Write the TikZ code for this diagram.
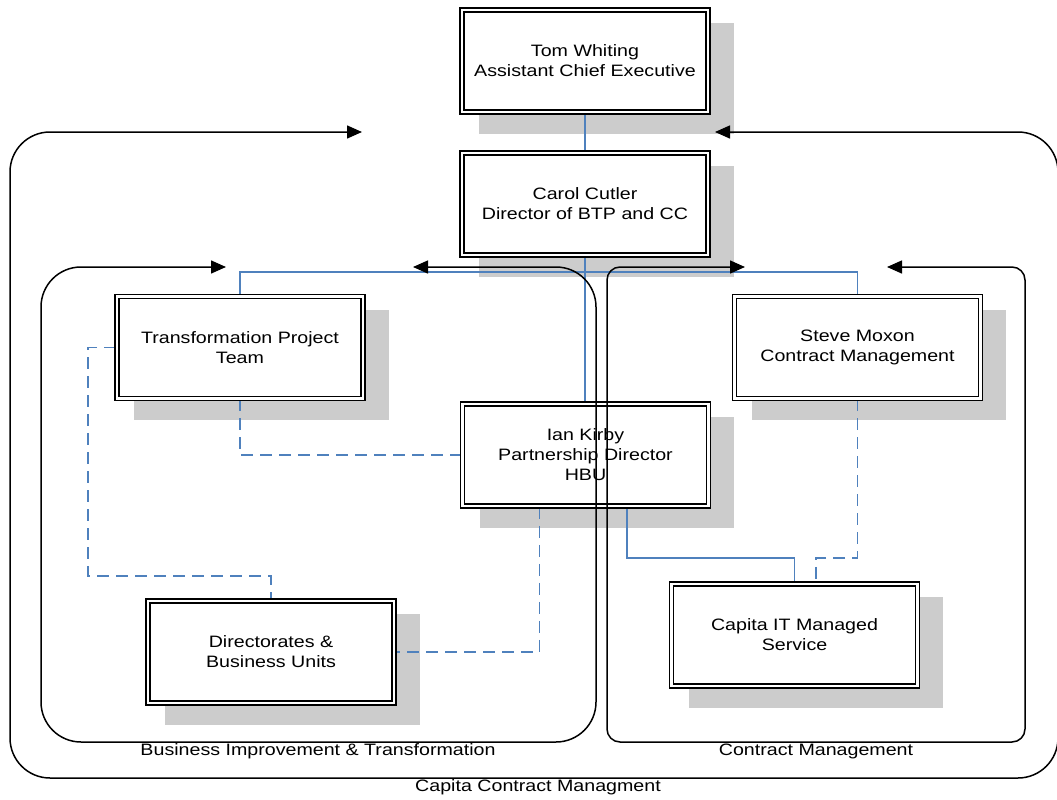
\documentclass[tikz,border=0pt]{standalone}
\usepackage{fontspec}
\setmainfont{Liberation Sans}[FakeStretch=1.19]
\usetikzlibrary{arrows.meta}
\definecolor{linkblue}{RGB}{79,129,189}
\definecolor{shadowgray}{RGB}{204,204,204}
\pgfdeclarelayer{shadowlayer}
\pgfdeclarelayer{linklayer}
\pgfsetlayers{shadowlayer,linklayer,main}
\newcommand\shadowof[1]{\fill[shadowgray] ([shift={(18,14)}]#1.north west) rectangle ([shift={(25,21)}]#1.south east);}
\begin{document}
\begin{tikzpicture}[x=1pt,y=-1pt,
  orgbox/.style={draw=black, line width=1.8pt, double=white, double distance=2.2pt,
    fill=white, minimum width=246pt, minimum height=102pt, inner sep=0pt,
    align=center, font=\fontsize{16.5}{20}\selectfont},
  link/.style={draw=linkblue, line width=1.4pt},
  dlink/.style={link, dash pattern=on 12pt off 7pt},
  frame/.style={draw=black, line width=1.5pt,
    {Triangle[length=15pt,width=13pt]}-{Triangle[length=15pt,width=13pt]}},
  lbl/.style={inner sep=0pt, font=\fontsize{16.5}{20}\selectfont}]
\useasboundingbox (0,0) rectangle (1057,800);

% boxes
\node[orgbox] (tom) at (585,61) {Tom Whiting\\Assistant Chief Executive};
\node[orgbox] (carol) at (585,204) {Carol Cutler\\Director of BTP and CC};
\node[orgbox] (tpt) at (240,347.5) {Transformation Project\\Team};
\node[orgbox] (steve) at (857.5,347.5) {Steve Moxon\\Contract Management};
\node[orgbox] (ian) at (585.5,455) {Ian Kirby\\Partnership Director\\HBU};
\node[orgbox] (dir) at (271,652) {Directorates \&\\Business Units};
\node[orgbox] (cit) at (794.5,635) {Capita IT Managed\\Service};

% shadows
\begin{pgfonlayer}{shadowlayer}
  \shadowof{tom}
  \shadowof{carol}
  \shadowof{tpt}
  \shadowof{steve}
  \shadowof{ian}
  \shadowof{dir}
  \shadowof{cit}
\end{pgfonlayer}

% connectors
\coordinate (bus) at (585,272);
\coordinate (dl) at (88,576);
\coordinate (j1) at (700,558);
\coordinate (ianL) at ([xshift=-46]ian.south);
\coordinate (ianR) at ([xshift=41.5]ian.south);
\coordinate (citR) at ([xshift=21.5]cit.north);
\begin{pgfonlayer}{linklayer}
  \draw[link] (tom.south) -- (carol.north);
  \draw[link] (carol.south) -- (carol.south |- ian.north);
  \draw[link] (tpt.north) |- (bus) -| (steve.north);
  \draw[dlink] (tpt.south) |- (ian.west);
  \draw[dlink] (tpt.west) -| (dl) -| (dir.north);
  \draw[dlink] (ianL) |- (dir.east);
  \draw[link] (ianR) -- (ianR |- j1) -| (cit.north);
  \draw[dlink] (steve.south) -- (steve.south |- j1) -| (citR);
\end{pgfonlayer}

% containers
\draw[frame, rounded corners=40pt] (715,132) -- (1058,132) -- (1058,778) -- (10,778) -- (10,132) -- (362,132);
\draw[frame, rounded corners=40pt] (413,267) -- (596,267) -- (596,742) -- (41,742) -- (41,267) -- (226,267);
\draw[frame, rounded corners=13pt] (887,267) -- (1025,267) -- (1025,742) -- (607,742) -- (607,267) -- (745,267);

% labels
\node[lbl] (bitlabel) at (318,751) {Business Improvement \& Transformation};
\node[lbl] (cmlabel) at (816,751) {Contract Management};
\node[lbl] (ccmlabel) at (538,787) {Capita Contract Managment};
\end{tikzpicture}
\end{document}
